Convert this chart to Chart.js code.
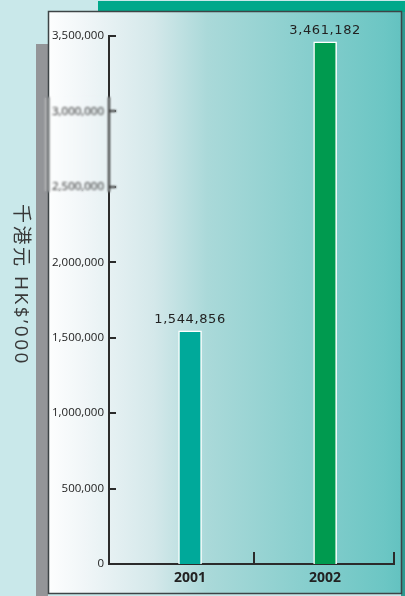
<!DOCTYPE html>
<html>
<head>
<meta charset="utf-8">
<script src="https://cdn.jsdelivr.net/npm/chart.js@4.4.1/dist/chart.umd.min.js"></script>
<style>
  html, body { margin: 0; padding: 0; background: #c9e8ea; }
  #turnover_chart { display: block; }
</style>
</head>
<body>
<canvas id="turnover_chart" width="405" height="596"></canvas>
<script>
// 營業額 (千港元)
const years = [2001, 2002]
const turnover = [1544856, 3461182]
const bar_colors = ['#00a99a', '#009a4f']
const y_max = 3500000
const y_step = 500000
// 年份分隔線
const year_edges = [2001.47, 2002.51]
const axis_title = '千港元 HK$’000'

const fmt = (v) => Number(v).toLocaleString('en-US')

// 背景: 淺藍底、綠條、灰條、漸層面板
const backdrop = {
  id: 'backdrop',
  beforeDraw(chart) {
    const ctx = chart.ctx
    ctx.save()
    ctx.fillStyle = '#c9e8ea'
    ctx.fillRect(0, 0, 405, 596)
    ctx.fillStyle = '#00a88b'
    ctx.fillRect(98, 1, 307, 11)
    ctx.fillStyle = '#2f9a92'
    ctx.fillRect(401, 12, 4, 584)
    ctx.fillStyle = '#939598'
    ctx.fillRect(36, 44, 12, 552)
    let g = ctx.createLinearGradient(48, 0, 402, 0)
    g.addColorStop(0, '#fdfefe')
    g.addColorStop(0.1, '#f1f6f8')
    g.addColorStop(0.3, '#d4e8ea')
    g.addColorStop(0.45, '#aad9d9')
    g.addColorStop(0.95, '#6cc6c4')
    g.addColorStop(1, '#63c2c0')
    ctx.fillStyle = g
    ctx.fillRect(48, 11, 354, 583)
    ctx.strokeStyle = '#3d4446'
    ctx.lineWidth = 1.5
    ctx.strokeRect(48.5, 11.5, 353, 582)
    ctx.restore()
  },
}

// 軸上刻度、數值標籤、直排標題
const decorations = {
  id: 'decorations',
  afterDraw(chart) {
    const ctx = chart.ctx
    const ys = chart.scales.y
    const xs = chart.scales.x
    ctx.save()
    ctx.strokeStyle = '#2b2b2b'
    ctx.lineWidth = 2
    ys.ticks.forEach((t) => {
      const py = Math.round(ys.getPixelForValue(t.value))
      ctx.beginPath()
      ctx.moveTo(ys.right, py)
      ctx.lineTo(ys.right + 7, py)
      ctx.stroke()
    })
    year_edges.forEach((v) => {
      const px = Math.round(xs.getPixelForValue(v))
      ctx.beginPath()
      ctx.moveTo(px, xs.top)
      ctx.lineTo(px, xs.top - 12)
      ctx.stroke()
    })

    // 數值
    ctx.fillStyle = '#222'
    ctx.font = '13px "DejaVu Sans"'
    ctx.letterSpacing = '0.6px'
    ctx.textAlign = 'center'
    ctx.textBaseline = 'alphabetic'
    chart.getDatasetMeta(0).data.forEach((bar, i) => {
      ctx.fillText(fmt(turnover[i]), bar.x, bar.y - 8)
    })

    // 標題
    ctx.translate(20, 285)
    ctx.rotate(Math.PI / 2)
    ctx.fillStyle = '#383838'
    ctx.font = '19px "Open Sans", "Noto Sans CJK TC"'
    ctx.letterSpacing = '2.5px'
    ctx.textBaseline = 'middle'
    ctx.fillText(axis_title, 0, 0)
    ctx.restore()

    // 3,000,000 / 2,500,000 一帶模糊
    ctx.save()
    ctx.fillStyle = 'rgba(200,200,200,0.8)'
    ctx.fillRect(45, 98, 1.5, 93)
    ctx.filter = 'blur(0.9px)'
    ctx.drawImage(chart.canvas, 44, 97, 72, 95, 44, 97, 72, 95)
    ctx.restore()
  },
}

const ctx = document.getElementById('turnover_chart')
new Chart(ctx, {
  type: 'bar',
  data: {
    datasets: [
      {
        data: years.map((y, i) => ({ x: y, y: turnover[i] })),
        backgroundColor: bar_colors,
        borderColor: '#ffffff',
        borderWidth: { top: 1.5, left: 1.5, right: 1.5, bottom: 0 },
        borderSkipped: false,
        barThickness: 23,
      },
    ],
  },
  options: {
    responsive: false,
    animation: false,
    events: [],
    layout: { padding: { left: 0, top: 36, right: 11, bottom: 0 } },
    plugins: {
      legend: { display: false },
      tooltip: { enabled: false },
    },
    scales: {
      x: {
        type: 'linear',
        min: 2000.4,
        max: 2002.51,
        offset: false,
        afterBuildTicks: (s) => {
          s.ticks = years.map((v) => ({ value: v }))
        },
        afterFit: (s) => {
          s.height = 32
        },
        grid: { display: false, drawTicks: false, offset: false },
        border: { display: true, color: '#2b2b2b', width: 2 },
        ticks: {
          padding: 6,
          color: '#222',
          font: { family: 'Open Sans', size: 14, weight: 'bold' },
          callback: (v) => String(v),
        },
      },
      y: {
        min: 0,
        max: y_max,
        afterBuildTicks: (s) => {
          let t = []
          for (let v = 0; v <= y_max; v += y_step) t.push({ value: v })
          s.ticks = t
        },
        afterFit: (s) => {
          s.width = 109
        },
        grid: { display: false, drawTicks: false },
        border: { display: true, color: '#2b2b2b', width: 2 },
        ticks: {
          padding: 5,
          color: '#222',
          font: { family: 'Open Sans', size: 11.5 },
          callback: (v) => fmt(v),
        },
      },
    },
  },
  plugins: [backdrop, decorations],
})
</script>
</body>
</html>
